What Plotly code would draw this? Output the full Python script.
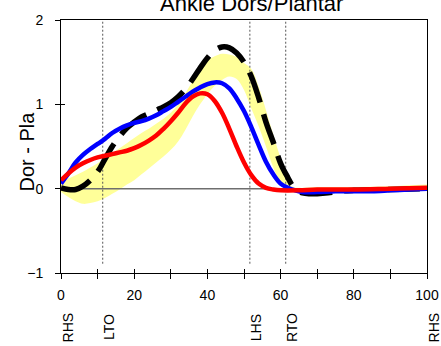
import plotly.graph_objects as go

# Gait cycle (% of stride) sample points for each curve
x_blue = [0, 2, 4, 6, 8, 10, 12, 14, 16, 18, 20, 22, 24, 26, 28, 30, 32, 34, 36, 38,
          40, 42, 44, 46, 48, 50, 52, 54, 56, 58, 60, 62, 64, 66, 70, 75, 80, 85, 90, 95, 100]
y_blue = [0.06, 0.18, 0.31, 0.40, 0.47, 0.53, 0.59, 0.66, 0.71, 0.75, 0.78, 0.80, 0.83, 0.87,
          0.92, 0.97, 1.03, 1.09, 1.15, 1.20, 1.24, 1.26, 1.25, 1.19, 1.07, 0.92, 0.73, 0.52,
          0.32, 0.17, 0.06, 0.01, -0.02, -0.04, -0.04, -0.03, -0.03, -0.03, -0.02, -0.01, 0.0]

x_red = [0, 2, 4, 6, 8, 10, 12, 14, 16, 18, 20, 22, 24, 26, 28, 30, 32, 34, 36, 38,
         40, 42, 44, 46, 48, 50, 52, 54, 56, 58, 60, 65, 70, 80, 90, 100]
y_red = [0.10, 0.18, 0.25, 0.30, 0.34, 0.37, 0.39, 0.41, 0.43, 0.45, 0.48, 0.52, 0.57, 0.63,
         0.71, 0.80, 0.90, 1.01, 1.09, 1.13, 1.12, 1.04, 0.90, 0.71, 0.50, 0.31, 0.16, 0.06,
         0.01, -0.01, -0.02, -0.02, -0.01, -0.01, 0.0, 0.01]

x_norm = [0, 2, 4, 6, 8, 10, 12, 14, 16, 18, 20, 22, 24, 26, 28, 30, 32, 34, 36, 38,
          40, 42, 44, 46, 48, 50, 52, 54, 56, 58, 60, 61, 62, 63, 64, 66, 68, 70, 73, 76,
          80, 90, 100]
y_norm = [0.01, -0.01, -0.01, 0.03, 0.10, 0.20, 0.35, 0.50, 0.62, 0.72, 0.79, 0.85, 0.89,
          0.93, 0.97, 1.02, 1.09, 1.18, 1.30, 1.43, 1.55, 1.64, 1.68, 1.67, 1.61, 1.50, 1.33,
          1.08, 0.79, 0.55, 0.30, 0.21, 0.13, 0.05, -0.01, -0.05, -0.06, -0.06, -0.05, -0.03,
          -0.02, -0.01, 0.0]

# Normal range band (lower and upper bounds)
x_band = [0, 2, 4, 6, 8, 10, 12, 14, 16, 18, 20, 22, 24, 26, 28, 30, 32, 34, 36, 38,
          40, 42, 44, 46, 48, 50, 52, 54, 56, 58, 60, 62, 63, 65, 70, 80, 90, 100]
band_low = [-0.04, -0.10, -0.15, -0.18, -0.17, -0.15, -0.11, -0.06, -0.01, 0.05, 0.10, 0.17,
            0.24, 0.31, 0.38, 0.46, 0.56, 0.70, 0.86, 1.00, 1.12, 1.22, 1.29, 1.33, 1.30,
            1.17, 0.95, 0.74, 0.50, 0.25, 0.07, -0.02, -0.03, -0.04, -0.03, -0.02, -0.01, -0.01]
band_high = [0.08, 0.12, 0.16, 0.20, 0.25, 0.30, 0.36, 0.42, 0.48, 0.54, 0.60, 0.66, 0.71,
             0.77, 0.83, 0.90, 1.00, 1.13, 1.28, 1.42, 1.52, 1.57, 1.60, 1.59, 1.56, 1.49,
             1.42, 1.21, 0.93, 0.64, 0.36, 0.10, 0.03, 0.01, 0.02, 0.02, 0.03, 0.05]

# Gait events
event_x = [0, 11.4, 51.6, 61.4, 100]
event_labels = ["RHS", "LTO", "LHS", "RTO", "RHS"]
divider_x = [11.4, 51.6, 61.4]

x_tickvals = [0, 10, 20, 30, 40, 50, 60, 70, 80, 90, 100]
x_ticktext = ["0", "", "20", "", "40", "", "60", "", "80", "", "100"]
y_tickvals = [-1, 0, 1, 2]

FONT = "Liberation Sans, Arial, sans-serif"

fig = go.Figure()

# band
fig.add_trace(go.Scatter(x=x_band, y=band_low, mode="lines", line=dict(width=0, shape="spline"),
                         hoverinfo="skip", showlegend=False))
fig.add_trace(go.Scatter(x=x_band, y=band_high, mode="lines", line=dict(width=0, shape="spline"),
                         fill="tonexty", fillcolor="rgb(255,255,153)", hoverinfo="skip",
                         showlegend=False))

# zero line
fig.add_trace(go.Scatter(x=[0, 100], y=[0, 0], mode="lines",
                         line=dict(color="#6e6e6e", width=1.5), showlegend=False))

# event dividers
for ex in divider_x:
    fig.add_trace(go.Scatter(x=[ex, ex], y=[-0.89, 2], mode="lines",
                             line=dict(color="#555555", width=1, dash="2px,2px"),
                             showlegend=False))

fig.add_trace(go.Scatter(x=x_norm, y=y_norm, mode="lines",
                         line=dict(color="black", width=5.5, shape="spline", dash="32px,12px"),
                         showlegend=False))
fig.add_trace(go.Scatter(x=x_blue, y=y_blue, mode="lines",
                         line=dict(color="#0000ff", width=4.5, shape="spline"),
                         showlegend=False))
fig.add_trace(go.Scatter(x=x_red, y=y_red, mode="lines",
                         line=dict(color="#ff0000", width=4.5, shape="spline"),
                         showlegend=False))

annotations = [
    dict(text="Ankle Dors/Plantar", xref="paper", yref="paper", x=(251 - 61) / 366,
         y=1 + 2 / 253, xanchor="center", yanchor="bottom", showarrow=False,
         font=dict(family=FONT, size=22, color="black")),
    dict(text="Dor - Pla", xref="paper", yref="paper", x=(27 - 61) / 366, y=0.48,
         xanchor="center", yanchor="middle", textangle=-90, showarrow=False,
         font=dict(family=FONT, size=20, color="black")),
]
for ex, lab in zip(event_x, event_labels):
    annotations.append(dict(text=lab, x=ex, xref="x", yref="paper", y=-0.215,
                            xanchor="center", yanchor="middle", textangle=-90,
                            xshift=7, showarrow=False,
                            font=dict(family=FONT, size=14, color="black")))

axis_common = dict(showgrid=False, zeroline=False, linecolor="black", linewidth=1,
                   tickcolor="black", tickwidth=1, automargin=False)

fig.update_layout(
    width=441, height=346,
    margin=dict(l=61, r=14, t=20, b=73, autoexpand=False),
    paper_bgcolor="white", plot_bgcolor="white",
    font=dict(family=FONT, size=14, color="black"),
    xaxis=dict(range=[0, 100], tickvals=x_tickvals, ticktext=x_ticktext, ticks="outside",
               ticklen=5, mirror=True, showline=True, ticklabelstandoff=4, **axis_common),
    yaxis=dict(range=[-1, 2], tickvals=y_tickvals, ticks="outside", ticklen=5,
               mirror=True, showline=True, ticklabelstandoff=9, **axis_common),
    xaxis2=dict(range=[0, 100], tickvals=x_tickvals, ticks="inside", ticklen=4,
                showticklabels=False, overlaying="x", anchor="y", side="bottom",
                showline=False, showgrid=False, zeroline=False, tickcolor="black",
                automargin=False),
    yaxis2=dict(range=[-1, 2], tickvals=y_tickvals, ticks="inside", ticklen=4,
                showticklabels=False, overlaying="y", anchor="x", side="left",
                showline=False, showgrid=False, zeroline=False, tickcolor="black",
                automargin=False),
    annotations=annotations,
    showlegend=False,
)

# empty trace to activate the secondary tick axes
fig.add_trace(go.Scatter(x=[None], y=[None], xaxis="x2", yaxis="y2", showlegend=False))

fig.write_html("out.html")
